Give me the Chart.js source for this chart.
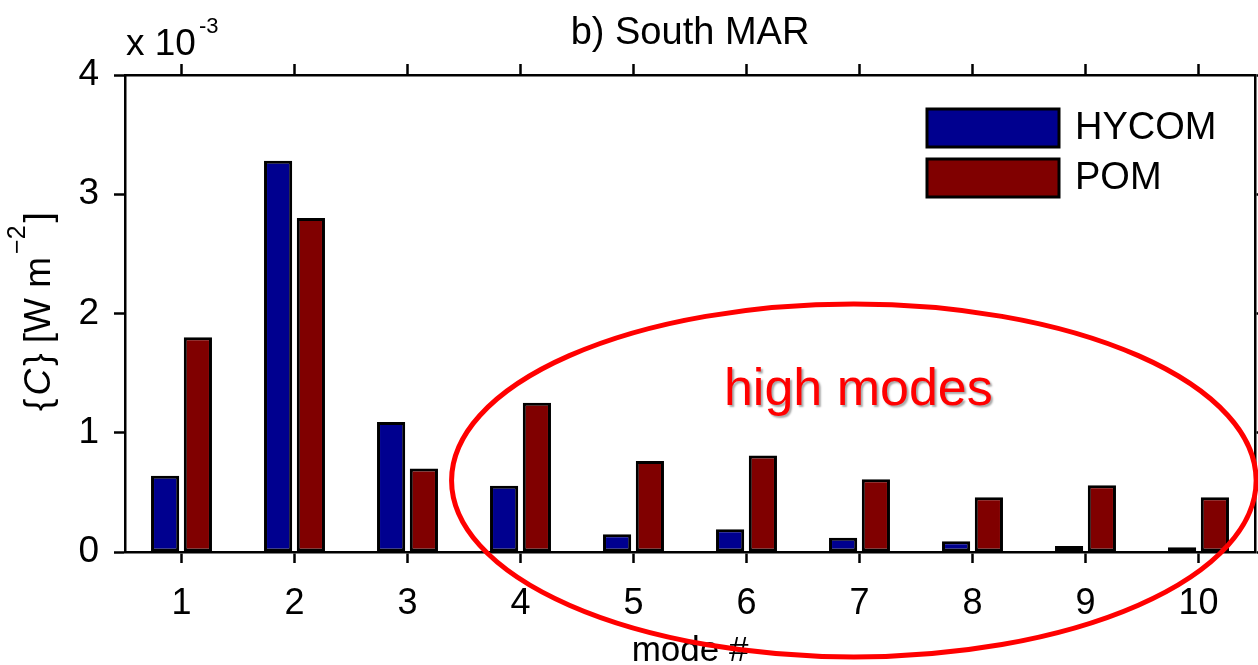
<!DOCTYPE html>
<html lang="en">

<head>
    <meta charset="UTF-8">
    <title>b) South MAR</title>
    <script src="https://cdn.jsdelivr.net/npm/chart.js@4.4.1/dist/chart.umd.min.js"></script>
    <style>
        body {
            margin: 0;
            background: #fff;
        }

        #wrap {
            width: 1258px;
            height: 665px;
            position: relative;
        }
    </style>
</head>

<body>
    <div id="wrap">
        <canvas id="modeChart"></canvas>
    </div>

    <script>
        // values in units of 1e-3 W m^-2
        const modes = ['1', '2', '3', '4', '5', '6', '7', '8', '9', '10'];
        const hycom = [0.64, 3.28, 1.09, 0.556, 0.148, 0.19, 0.12, 0.09, 0.05, 0.04];
        const pom = [1.80, 2.80, 0.70, 1.252, 0.763, 0.81, 0.61, 0.46, 0.56, 0.46];
        const yTicks = [0, 1, 2, 3, 4];

        const FONT = "'Liberation Sans', Arial, sans-serif";
        const BLUE = '#00008f';
        const RED = '#800000';

        // annotation: ellipse around the high modes (in axis units)
        const ring = { x: 5.95, y: 0.60, rx: 3.56, ry: 1.48 };
        const note = { text: 'high modes', x: 5.99, y: 1.233 };

        const decorations = {
            id: 'decorations',
            afterDraw(chart) {
                const ctx = chart.ctx;
                const area = chart.chartArea;
                const xs = chart.scales.x;
                const ys = chart.scales.y;
                const cx = (area.left + area.right) / 2;

                ctx.save();
                ctx.fillStyle = '#000';

                // title
                ctx.font = '38px ' + FONT;
                ctx.textAlign = 'center';
                ctx.textBaseline = 'alphabetic';
                ctx.fillText('b) South MAR', cx, area.top - 31);

                // exponent label
                ctx.font = '37px ' + FONT;
                ctx.textAlign = 'left';
                ctx.fillText('x 10', area.left + 1, area.top - 20);
                const w10 = ctx.measureText('x 10').width;
                ctx.font = '22px ' + FONT;
                ctx.fillText('-3', area.left + 4 + w10, area.top - 42);

                // y axis title, rotated
                ctx.save();
                ctx.translate(50, (area.top + area.bottom) / 2 - 2);
                ctx.rotate(-Math.PI / 2);
                const parts = [
                    { t: '{', f: '37px ' + FONT, dy: 0 },
                    { t: 'C', f: 'italic 37px ' + FONT, dy: 0 },
                    { t: '} [W m', f: '37px ' + FONT, dy: 0 },
                    { t: '\u22122', f: '25px ' + FONT, dy: -25 },
                    { t: ']', f: '37px ' + FONT, dy: 0 }
                ];
                let total = 0;
                parts.forEach(p => { ctx.font = p.f; p.w = ctx.measureText(p.t).width; total += p.w; });
                total += 12;
                let px = -total / 2;
                ctx.textAlign = 'left';
                parts.forEach(p => {
                    ctx.font = p.f;
                    ctx.fillText(p.t, px, p.dy);
                    px += p.w + 3;
                });
                ctx.restore();

                // x axis title
                ctx.font = '35px ' + FONT;
                ctx.textAlign = 'center';
                ctx.fillText('mode #', cx, area.bottom + 109);

                // legend
                const sets = chart.data.datasets;
                const lx = area.right - 328;
                sets.forEach((ds, i) => {
                    const top = area.top + 34 + i * 50;
                    ctx.fillStyle = ds.backgroundColor;
                    ctx.fillRect(lx, top, 132, 38);
                    ctx.lineWidth = 3;
                    ctx.strokeStyle = '#000';
                    ctx.strokeRect(lx, top, 132, 38);
                    ctx.fillStyle = '#000';
                    ctx.font = '38px ' + FONT;
                    ctx.textAlign = 'left';
                    ctx.textBaseline = 'middle';
                    ctx.fillText(ds.label, lx + 148, top + 20);
                });

                // annotation text
                ctx.textBaseline = 'alphabetic';
                ctx.textAlign = 'center';
                ctx.font = '52px ' + FONT;
                ctx.shadowColor = 'rgba(0,0,0,0.35)';
                ctx.shadowOffsetX = 2;
                ctx.shadowOffsetY = 2;
                ctx.shadowBlur = 2;
                ctx.fillStyle = '#ff0000';
                ctx.fillText(note.text, xs.getPixelForValue(note.x), ys.getPixelForValue(note.y));
                ctx.shadowColor = 'transparent';

                // ellipse
                const ex = xs.getPixelForValue(ring.x);
                const ey = ys.getPixelForValue(ring.y);
                const erx = xs.getPixelForValue(ring.x + ring.rx) - ex;
                const ery = ey - ys.getPixelForValue(ring.y + ring.ry);
                ctx.beginPath();
                ctx.ellipse(ex, ey, erx, ery, 0, 0, Math.PI * 2);
                ctx.lineWidth = 5;
                ctx.strokeStyle = '#ff0000';
                ctx.stroke();

                ctx.restore();
            }
        };

        const axisGrid = {
            drawOnChartArea: false,
            tickLength: 11,
            tickWidth: 2.5,
            tickColor: '#000',
            offset: false
        };
        const axisBorder = { color: '#000', width: 2.5 };

        new Chart(document.getElementById('modeChart'), {
            type: 'bar',
            data: {
                labels: modes,
                datasets: [{
                    label: 'HYCOM',
                    data: hycom,
                    backgroundColor: BLUE,
                    borderColor: '#000',
                    borderWidth: 3,
                    borderSkipped: false,
                    xAxisID: 'x',
                    yAxisID: 'y'
                }, {
                    label: 'POM',
                    data: pom,
                    backgroundColor: RED,
                    borderColor: '#000',
                    borderWidth: 3,
                    borderSkipped: false,
                    xAxisID: 'x',
                    yAxisID: 'y'
                }]
            },
            options: {
                responsive: true,
                maintainAspectRatio: false,
                devicePixelRatio: 1,
                animation: false,
                layout: { padding: 0 },
                categoryPercentage: 0.58,
                barPercentage: 0.86,
                plugins: {
                    legend: { display: false },
                    title: { display: false },
                    tooltip: { enabled: false }
                },
                scales: {
                    x: {
                        type: 'category',
                        position: 'bottom',
                        offset: true,
                        grid: axisGrid,
                        border: axisBorder,
                        ticks: {
                            color: '#000',
                            padding: 19,
                            maxRotation: 0,
                            font: { family: FONT, size: 36 }
                        },
                        afterFit: s => { s.height = 113; }
                    },
                    x2: {
                        type: 'category',
                        position: 'top',
                        offset: true,
                        grid: axisGrid,
                        border: axisBorder,
                        ticks: { display: false },
                        afterFit: s => { s.height = 75; }
                    },
                    y: {
                        position: 'left',
                        min: 0,
                        max: 4,
                        grid: axisGrid,
                        border: axisBorder,
                        afterBuildTicks: s => { s.ticks = yTicks.map(v => ({ value: v })); },
                        ticks: {
                            color: '#000',
                            padding: 15,
                            font: { family: FONT, size: 37 }
                        },
                        afterFit: s => { s.width = 125; }
                    },
                    y2: {
                        position: 'right',
                        min: 0,
                        max: 4,
                        grid: axisGrid,
                        border: axisBorder,
                        afterBuildTicks: s => { s.ticks = yTicks.map(v => ({ value: v })); },
                        ticks: { display: false },
                        afterFit: s => { s.width = 3; }
                    }
                }
            },
            plugins: [decorations]
        });
    </script>
</body>

</html>
